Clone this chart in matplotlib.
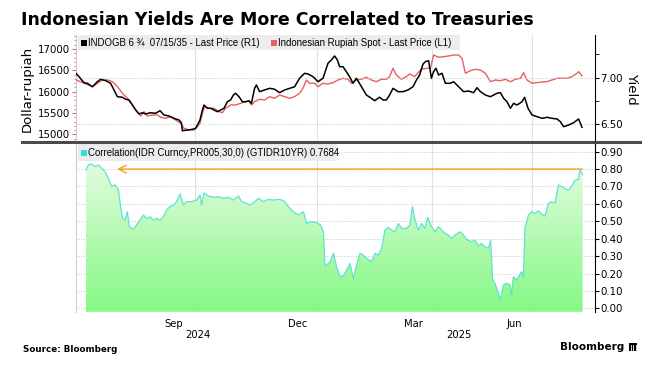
import numpy as np
import matplotlib
matplotlib.use('Agg')
import matplotlib.pyplot as plt
from matplotlib.colors import LinearSegmentedColormap
from matplotlib.patches import PathPatch, Rectangle
from matplotlib.lines import Line2D
from matplotlib.ticker import FixedLocator, MultipleLocator, NullFormatter

# ---------------- data (x = trading-day index from chart start) ----------------
yield_day = [0, 1.5, 4, 5.7, 8.2, 10.7, 12.3, 14.8, 17.3, 19, 20.7, 23.2, 24.8, 26.5, 28.2,
             29.8, 31.5, 33.2, 34.8, 37.3, 39.8, 42, 44, 46.5, 49, 51.5, 52.7, 53.2, 55.7,
             58.2, 59.8, 60.7, 62, 63.2, 64, 65.7, 67.3, 69, 70.7, 72.3, 74, 75.7, 77.3,
             78.7, 79.8, 81.5, 83.2, 84.8, 86.5, 87.7, 89.3, 90.2, 91.8, 94.3, 96.8, 99.3,
             101.8, 104.3, 106.8, 109.3, 111.8, 114.3, 116, 118.5, 121, 123.5, 126, 127.7,
             129.3, 130.7, 131.8, 133.5, 135.2, 136.8, 138.5, 140.2, 142.7, 145.2, 147.7,
             149.3, 151.8, 153.5, 155.2, 156.8, 158.5, 161, 163.5, 166, 168.5, 170.2, 171.8,
             173.5, 174.7, 176.3, 177.7, 178.8, 180, 181.3, 183, 184.7, 187.2, 188.8, 191.3,
             193.8, 196.3, 198.8, 200.5, 202.2, 204.7, 207.2, 208.8, 210.5, 212.2, 213.8,
             215.5, 217.2, 218.8, 220.5, 223, 224.3, 226, 228, 230.5, 233, 235.5, 238,
             240.5, 242.2, 243.8, 246.3, 248.8, 251.3, 252.2, 253]
yield_val = [7.047, 7.011, 6.946, 6.940, 6.903, 6.957, 6.983, 6.968, 6.940, 6.868, 6.796,
             6.790, 6.768, 6.761, 6.707, 6.653, 6.611, 6.624, 6.611, 6.624, 6.618, 6.646,
             6.600, 6.589, 6.564, 6.546, 6.517, 6.431, 6.439, 6.446, 6.457, 6.492, 6.546,
             6.653, 6.707, 6.672, 6.672, 6.653, 6.635, 6.653, 6.672, 6.742, 6.761, 6.814,
             6.833, 6.796, 6.742, 6.742, 6.752, 6.725, 6.886, 6.922, 6.850, 6.868, 6.886,
             6.876, 6.839, 6.868, 6.886, 6.903, 6.994, 7.047, 7.040, 7.011, 6.957, 6.994,
             7.155, 7.190, 7.233, 7.190, 7.118, 7.118, 7.064, 7.011, 6.940, 6.994, 6.903,
             6.814, 6.779, 6.753, 6.790, 6.761, 6.761, 6.814, 6.886, 6.850, 6.850, 6.868,
             6.903, 6.975, 7.029, 7.145, 7.172, 7.182, 6.994, 7.064, 7.101, 7.029, 7.047,
             6.940, 6.940, 6.957, 6.903, 6.850, 6.857, 6.839, 6.893, 6.850, 6.814, 6.796,
             6.814, 6.833, 6.839, 6.779, 6.742, 6.672, 6.725, 6.707, 6.742, 6.790, 6.672,
             6.600, 6.582, 6.564, 6.575, 6.564, 6.557, 6.528, 6.474, 6.492, 6.517, 6.557,
             6.511, 6.468]

idr_day = [0, 2.3, 4.8, 8.2, 10.7, 13.2, 15.7, 18.2, 20.7, 23.2, 25.7, 28.2, 30.7, 32.3, 34,
           35.7, 38.2, 40.7, 42.3, 44.8, 47.3, 49.8, 52.3, 54, 56.5, 59, 60.7, 62, 63.2,
           64.3, 66.5, 69, 71.5, 73.2, 74.8, 77.3, 79.8, 82.3, 84.8, 86.5, 87.7, 89.3, 91.8,
           94.3, 96.8, 99.3, 101.8, 104.3, 106.8, 109.3, 111.8, 113.5, 115.2, 116.8, 119.3,
           121, 123.5, 126, 128.5, 131, 133.5, 136, 137.7, 140.2, 142.7, 145.2, 147.7, 150.2,
           152.7, 155.2, 156.8, 158.5, 160.2, 162.7, 165.2, 166.8, 169.3, 171, 172.7, 175.5,
           177.2, 178.8, 181.3, 183.8, 186.3, 188.8, 191.3, 193, 194.7, 197.2, 199.7, 202.2,
           204.7, 207.2, 209.7, 212.2, 214.7, 217.2, 219.7, 222.2, 223.8, 225.5, 228, 230.5,
           233, 235.5, 238, 240.5, 243, 245.5, 248, 250.5, 251.3, 253]
idr_val = [16275, 16236, 16182, 16119, 16198, 16275, 16275, 16236, 16119, 15964, 15847,
           15690, 15534, 15433, 15534, 15433, 15456, 15456, 15402, 15379, 15417, 15339,
           15262, 15145, 15105, 15105, 15183, 15262, 15496, 15651, 15613, 15613, 15534,
           15510, 15613, 15690, 15690, 15730, 15768, 15780, 15690, 15768, 15824, 15807,
           15885, 15847, 15924, 15885, 15847, 15885, 15964, 16081, 16275, 16198, 16198,
           16119, 16198, 16182, 16212, 16275, 16315, 16292, 16198, 16275, 16292, 16338,
           16275, 16236, 16292, 16292, 16353, 16549, 16392, 16292, 16353, 16416, 16353,
           16446, 16526, 16549, 16549, 16860, 16806, 16821, 16837, 16860, 16860, 16783,
           16432, 16493, 16526, 16509, 16432, 16236, 16275, 16259, 16292, 16236, 16292,
           16315, 16446, 16275, 16198, 16212, 16229, 16236, 16275, 16315, 16315, 16315,
           16353, 16432, 16470, 16369]

corr_day = [5, 6.2, 7.8, 9.5, 11.2, 12.8, 14.5, 16.2, 17.8, 19.5, 21.2, 22.3, 23.3, 24.5,
            25.7, 26.7, 28.7, 30.3, 32, 33.7, 35.3, 37, 38.7, 40.3, 42, 43.7, 45.3, 47,
            48.7, 50.3, 52, 53.7, 55.3, 57.8, 60.3, 62, 62.8, 64, 66.2, 68.7, 71.2, 73.7,
            76.2, 78.7, 81.2, 82.8, 85.3, 87, 89.5, 91.2, 93.7, 96.2, 98.7, 102, 104.5,
            106.2, 108.7, 111.2, 113.7, 115.3, 117.8, 120.3, 122.3, 123.7, 124.5, 126.2,
            127, 128.7, 130.3, 132, 133.7, 135.3, 137, 138.7, 140.3, 142, 143.7, 145.3,
            147.8, 149.5, 151.2, 152.8, 154.5, 156.2, 157.8, 159.5, 161.2, 162.8, 165.3,
            167, 168.2, 169.5, 171.2, 172.8, 174.5, 175.8, 177.8, 179.5, 181.2, 182.8,
            184.5, 186.2, 187.8, 189.5, 192, 193.7, 195.3, 197.8, 199.5, 201.2, 202.8,
            204.5, 206.2, 207.3, 208.3, 209.5, 211.2, 212.3, 213.7, 215.3, 217, 217.8,
            218.7, 220, 221.2, 222.8, 223.7, 224.5, 226.2, 227.8, 229.5, 231.2, 232.8,
            234.5, 236.2, 237.8, 239.5, 241.2, 242.8, 244.5, 246.2, 247.8, 249.5, 251.2,
            252, 253.3]
corr_val = [0.795, 0.824, 0.829, 0.814, 0.824, 0.805, 0.785, 0.747, 0.699, 0.709, 0.680,
            0.584, 0.517, 0.507, 0.555, 0.469, 0.454, 0.479, 0.507, 0.536, 0.517, 0.526,
            0.507, 0.517, 0.507, 0.526, 0.565, 0.584, 0.593, 0.613, 0.657, 0.593, 0.613,
            0.613, 0.622, 0.651, 0.593, 0.664, 0.645, 0.638, 0.641, 0.632, 0.638, 0.622,
            0.645, 0.613, 0.603, 0.593, 0.613, 0.632, 0.613, 0.626, 0.622, 0.626, 0.613,
            0.584, 0.555, 0.536, 0.555, 0.488, 0.498, 0.492, 0.479, 0.440, 0.239, 0.258,
            0.268, 0.316, 0.239, 0.182, 0.186, 0.220, 0.258, 0.172, 0.249, 0.316, 0.306,
            0.287, 0.268, 0.316, 0.306, 0.345, 0.450, 0.465, 0.450, 0.440, 0.488, 0.459,
            0.459, 0.479, 0.584, 0.507, 0.450, 0.488, 0.459, 0.523, 0.469, 0.440, 0.469,
            0.450, 0.431, 0.421, 0.402, 0.421, 0.440, 0.421, 0.396, 0.383, 0.392, 0.358,
            0.373, 0.354, 0.345, 0.392, 0.163, 0.144, 0.086, 0.048, 0.134, 0.144, 0.134,
            0.076, 0.182, 0.163, 0.182, 0.210, 0.182, 0.459, 0.536, 0.555, 0.545, 0.561,
            0.541, 0.530, 0.603, 0.613, 0.603, 0.709, 0.699, 0.689, 0.680, 0.699, 0.737,
            0.741, 0.795, 0.768]
corr_reference = 0.80

month_labels = ['Sep', 'Dec', 'Mar', 'Jun']
month_label_day = [49, 111, 168.5, 219]
month_grid_day = [59.5, 120.5, 178, 228]
year_labels = ['2024', '2025']
year_label_day = [61, 191.5]

title = 'Indonesian Yields Are More Correlated to Treasuries'
legend_yield = 'INDOGB 6 \u00be  07/15/35 - Last Price (R1)'
legend_idr = 'Indonesian Rupiah Spot - Last Price (L1)'
legend_corr = 'Correlation(IDR Curncy,PR005,30,0) (GTIDR10YR) 0.7684'

# ---------------- style ----------------
plt.rcParams['font.family'] = ['DejaVu Sans']
LEG_FONT = ['Liberation Sans', 'DejaVu Sans']
RED = '#e8615c'
W, H = 660, 370
fig = plt.figure(figsize=(6.6, 3.7), dpi=100)


def fx(px):
    return px / W


def fy(py):
    return 1 - py / H


XMIN, XMAX = 0, 259.5
AXW = 595 - 76

ax = fig.add_axes([fx(76), fy(142), fx(595) - fx(76), fy(35) - fy(142)])
ax2 = ax.twinx()
axb = fig.add_axes([fx(76), fy(311.8), fx(595) - fx(76), fy(142) - fy(311.8)])

# top panel
ax.plot(idr_day, idr_val, color=RED, lw=1.0, zorder=3)
ax2.plot(yield_day, yield_val, color='black', lw=1.1, zorder=3)
ax.set_xlim(XMIN, XMAX)
ax2.set_xlim(XMIN, XMAX)
ax.set_ylim(14824, 17328)
ax2.set_ylim(6.310, 7.458)

ax.yaxis.set_major_locator(MultipleLocator(500))
ax.yaxis.set_minor_locator(MultipleLocator(100))
ax.tick_params(axis='y', which='major', colors=RED, length=3, labelsize=7.4,
               labelcolor='black', pad=1)
ax.tick_params(axis='y', which='minor', colors=RED, length=1.5)
ax2.yaxis.set_major_locator(MultipleLocator(0.5))
ax2.yaxis.set_minor_locator(MultipleLocator(0.25))
ax2.yaxis.set_major_formatter(matplotlib.ticker.FormatStrFormatter('%.2f'))
ax2.tick_params(axis='y', which='major', length=3, labelsize=7.4, pad=1)
ax2.tick_params(axis='y', which='minor', length=3)
ax2.grid(axis='y', color='#c8c8c8', ls=(0, (1, 1.5)), lw=0.7)

for a in (ax, ax2):
    a.xaxis.set_major_locator(FixedLocator(month_grid_day))
    a.tick_params(axis='x', length=0, labelbottom=False)
    a.spines['top'].set_visible(False)
    a.spines['bottom'].set_visible(False)
ax.grid(axis='x', color='#e0e0e0', lw=0.8)
ax.spines['left'].set_color('#cccccc')
ax.spines['right'].set_visible(False)
ax2.spines['left'].set_visible(False)
ax2.spines['right'].set_color('black')
ax.set_ylabel('Dollar-rupiah', fontsize=9.5, labelpad=3)
ax2.set_ylabel('Yield', fontsize=9.5, rotation=270, labelpad=11)

# top legend
top_h = 142 - 35
ax.add_patch(Rectangle((2 / AXW, 1 - 15 / top_h), (460 - 78) / AXW, 15 / top_h,
                       transform=ax.transAxes, facecolor='#ececec', edgecolor='none',
                       zorder=4, clip_on=False))
ax.add_patch(Rectangle((5 / AXW, 1 - 10.5 / top_h), 5.5 / AXW, 5.5 / top_h,
                       transform=ax.transAxes, facecolor='black', edgecolor='none', zorder=5))
ax.text(11.5 / AXW, 1 - 8 / top_h, legend_yield, transform=ax.transAxes, fontsize=6.9,
        family=LEG_FONT, va='center', ha='left', zorder=6)
ax.add_patch(Rectangle((195 / AXW, 1 - 10.5 / top_h), 5.5 / AXW, 5.5 / top_h,
                       transform=ax.transAxes, facecolor=RED, edgecolor='none', zorder=5))
ax.text(202 / AXW, 1 - 8 / top_h, legend_idr, transform=ax.transAxes, fontsize=6.9,
        family=LEG_FONT, va='center', ha='left', zorder=6)

# bottom panel
YB0, YB1 = -0.02, 0.9557
poly = axb.fill_between(corr_day, corr_val, YB0, color='none', lw=0)
path = poly.get_paths()[0]
grad = np.linspace(0, 1, 256).reshape(-1, 1)
cmap = LinearSegmentedColormap.from_list('g', ['#84f984', '#e4fbe0'])
im = axb.imshow(grad, extent=[corr_day[0], corr_day[-1], YB0, 0.84], origin='lower',
                aspect='auto', cmap=cmap, zorder=1, interpolation='bilinear')
im.set_clip_path(PathPatch(path, transform=axb.transData, facecolor='none'))
axb.plot(corr_day, corr_val, color='#5ee3cf', lw=0.9, zorder=3)
axb.set_xlim(XMIN, XMAX)
axb.set_ylim(YB0, YB1)

axb.annotate('', xy=(20.5, corr_reference), xytext=(corr_day[-1], corr_reference),
             arrowprops=dict(arrowstyle='->,head_length=0.55,head_width=0.28',
                             color='#f5a431', lw=1.1, shrinkA=0, shrinkB=0), zorder=4)

axb.yaxis.tick_right()
axb.yaxis.set_major_locator(FixedLocator(np.round(np.arange(0, 0.91, 0.1), 2)))
axb.yaxis.set_major_formatter(matplotlib.ticker.FormatStrFormatter('%.2f'))
axb.tick_params(axis='y', length=3, labelsize=7.4, pad=1)
axb.grid(axis='y', color='#c8c8c8', ls=(0, (1, 1.5)), lw=0.7)
axb.xaxis.set_major_locator(FixedLocator(month_grid_day))
axb.xaxis.set_major_formatter(NullFormatter())
axb.xaxis.set_minor_locator(FixedLocator(month_label_day))
axb.xaxis.set_minor_formatter(matplotlib.ticker.FixedFormatter(month_labels))
axb.tick_params(axis='x', which='both', length=0, labelsize=7.2, pad=5)
axb.grid(axis='x', which='major', color='#e0e0e0', lw=0.8)
axb.set_axisbelow(True)
for yl, yd in zip(year_labels, year_label_day):
    axb.text(yd, -0.138, yl, transform=axb.get_xaxis_transform(), fontsize=7.2,
             ha='center', va='center')
axb.spines['top'].set_visible(False)
axb.spines['bottom'].set_visible(False)
axb.spines['left'].set_color('#cccccc')
axb.spines['right'].set_color('black')

# bottom legend
hb = 311.8 - 142
axb.add_patch(Rectangle((2 / AXW, 1 - 19 / hb), (337 - 78) / AXW, 18 / hb,
                        transform=axb.transAxes, facecolor='#ececec', edgecolor='none', zorder=4))
axb.add_patch(Rectangle((5 / AXW, 1 - 13.5 / hb), 5.5 / AXW, 5.5 / hb, transform=axb.transAxes,
                        facecolor='#33dde0', edgecolor='none', zorder=5))
axb.text(12 / AXW, 1 - 10.8 / hb, legend_corr, transform=axb.transAxes, fontsize=6.9,
         family=LEG_FONT, va='center', ha='left', zorder=6)

# separator, title, footer
fig.add_artist(Line2D([fx(22), fx(640)], [fy(142), fy(142)], color='#4a4a4a', lw=2.2))
fig.text(fx(21), fy(20), title, fontsize=12.5, fontweight='bold', va='center', ha='left')
fig.text(fx(23), fy(349), 'Source: Bloomberg', fontsize=6.3, fontweight='bold',
         va='center', ha='left')
fig.text(fx(624), fy(347), 'Bloomberg', fontsize=7.5, fontweight='bold', va='center', ha='right')
fig.add_artist(Rectangle((fx(629), fy(351)), fx(8), 8 / H, facecolor='black', edgecolor='none'))
for dx in (631, 633.3, 635.5):
    fig.add_artist(Line2D([fx(dx), fx(dx)], [fy(349.5), fy(345)], color='white', lw=0.6))

fig.savefig('out.png', dpi=100)
